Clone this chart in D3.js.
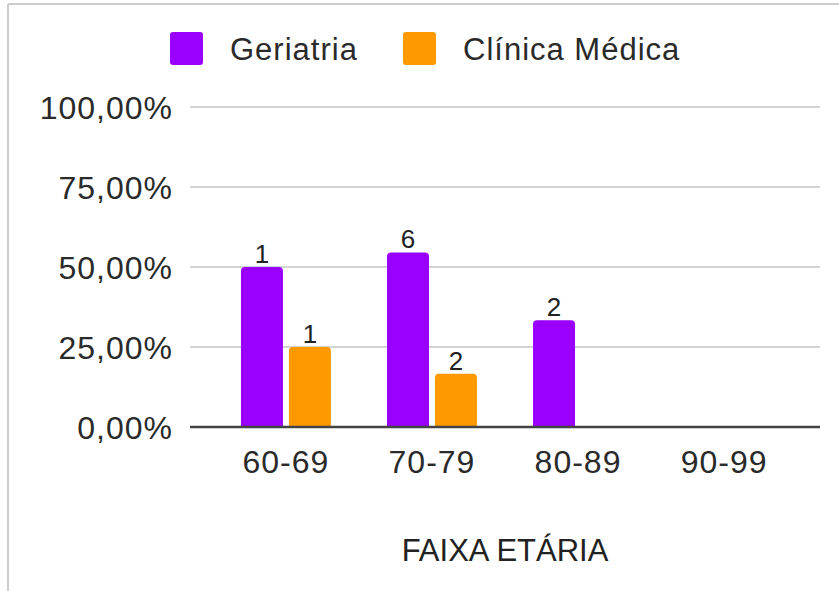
<!DOCTYPE html>
<html>
<head>
<meta charset="utf-8">
<script src="https://cdn.jsdelivr.net/npm/d3@7"></script>
<style>
  body { margin: 0; background: #fff; }
  svg { display: block; font-family: "Liberation Sans", Arial, sans-serif; }
</style>
</head>
<body>
<svg id="chart" width="839" height="591"></svg>
<script>
const faixas = ['60-69', '70-79', '80-89', '90-99']
const series = ['Geriatria', 'Clínica Médica']
const colors = ['#9900ff', '#ff9900']
// share of patients per age group, and the count shown above each bar
const geriatria = [0.5, 6 / 11, 1 / 3, null]
const geriatriaN = [1, 6, 2, null]
const clinica = [0.25, 1 / 6, null, null]
const clinicaN = [1, 2, null, null]
const yTicks = [0, 0.25, 0.5, 0.75, 1]
const xTitle = 'FAIXA ETÁRIA'

const svg = d3.select('#chart')
const W = 839, H = 591
const plot = { left: 190, right: 820, top: 107, bottom: 427 }

// frame
svg.append('line').attr('x1', 8).attr('x2', W).attr('y1', 4).attr('y2', 4)
  .attr('stroke', '#ccc').attr('stroke-width', 2)
svg.append('line').attr('x1', 8).attr('x2', 8).attr('y1', 4).attr('y2', H)
  .attr('stroke', '#ccc').attr('stroke-width', 2)

const x = d3.scaleBand().domain(faixas).range([plot.left, plot.right])
  .paddingInner(0.384).paddingOuter(0.349)
const xs = d3.scaleBand().domain(series).range([0, x.bandwidth()]).paddingInner(0.125)
const y = d3.scaleLinear().domain([0, 1]).range([plot.bottom, plot.top])

const fmt = v => d3.format('.2f')(v * 100).replace('.', ',') + '%'

// gridlines + y labels
svg.append('g')
  .selectAll('line').data(yTicks.filter(d => d > 0)).join('line')
    .attr('x1', plot.left).attr('x2', plot.right)
    .attr('y1', d => y(d)).attr('y2', d => y(d))
    .attr('stroke', '#d4d4d4').attr('stroke-width', 2)

svg.append('g')
  .selectAll('text').data(yTicks).join('text')
    .attr('x', 173).attr('y', d => y(d))
    .attr('dy', '0.36em')
    .attr('text-anchor', 'end')
    .attr('font-size', 32).attr('letter-spacing', 1)
    .attr('fill', '#2a2a2a')
    .text(fmt)

// bars
const rows = faixas.map((f, i) => ({
  faixa: f,
  vals: [
    { s: series[0], v: geriatria[i], n: geriatriaN[i], c: colors[0] },
    { s: series[1], v: clinica[i], n: clinicaN[i], c: colors[1] },
  ].filter(d => d.v != null),
}))

const barPath = (x0, w, y0, y1, r) => {
  const p = d3.path()
  p.moveTo(x0, y1)
  p.lineTo(x0, y0 + r)
  p.quadraticCurveTo(x0, y0, x0 + r, y0)
  p.lineTo(x0 + w - r, y0)
  p.quadraticCurveTo(x0 + w, y0, x0 + w, y0 + r)
  p.lineTo(x0 + w, y1)
  p.closePath()
  return p.toString()
}

const groups = svg.append('g').selectAll('g').data(rows).join('g')
  .attr('transform', d => `translate(${x(d.faixa)},0)`)

groups.selectAll('path').data(d => d.vals).join('path')
  .attr('fill', d => d.c)
  .attr('d', d => barPath(xs(d.s), xs.bandwidth(), y(d.v), y(0), 4))

groups.selectAll('text').data(d => d.vals).join('text')
  .attr('x', d => xs(d.s) + xs.bandwidth() / 2)
  .attr('y', d => y(d.v) - 4)
  .attr('text-anchor', 'middle')
  .attr('font-size', 26)
  .attr('fill', '#222')
  .text(d => d.n)

// x axis
svg.append('line')
  .attr('x1', plot.left).attr('x2', plot.right)
  .attr('y1', plot.bottom).attr('y2', plot.bottom)
  .attr('stroke', '#444').attr('stroke-width', 2.5)

svg.append('g')
  .selectAll('text').data(faixas).join('text')
    .attr('x', d => x(d) + x.bandwidth() / 2)
    .attr('y', 461).attr('dy', '0.36em')
    .attr('text-anchor', 'middle')
    .attr('font-size', 32).attr('letter-spacing', 1)
    .attr('fill', '#2a2a2a')
    .text(d => d)

svg.append('text')
  .attr('x', (plot.left + plot.right) / 2).attr('y', 550).attr('dy', '0.36em')
  .attr('text-anchor', 'middle')
  .attr('font-size', 31)
  .attr('fill', '#222')
  .text(xTitle)

// legend
const legend = svg.append('g')
const legendX = [170, 403]
series.forEach((s, i) => {
  const g = legend.append('g').attr('transform', `translate(${legendX[i]},32)`)
  g.append('rect').attr('width', 33).attr('height', 33).attr('rx', 3)
    .attr('fill', colors[i])
  g.append('text').attr('x', 60).attr('y', 16.5).attr('dy', '0.36em')
    .attr('font-size', 31).attr('letter-spacing', 1)
    .attr('fill', '#2a2a2a')
    .text(s)
})
</script>
</body>
</html>
